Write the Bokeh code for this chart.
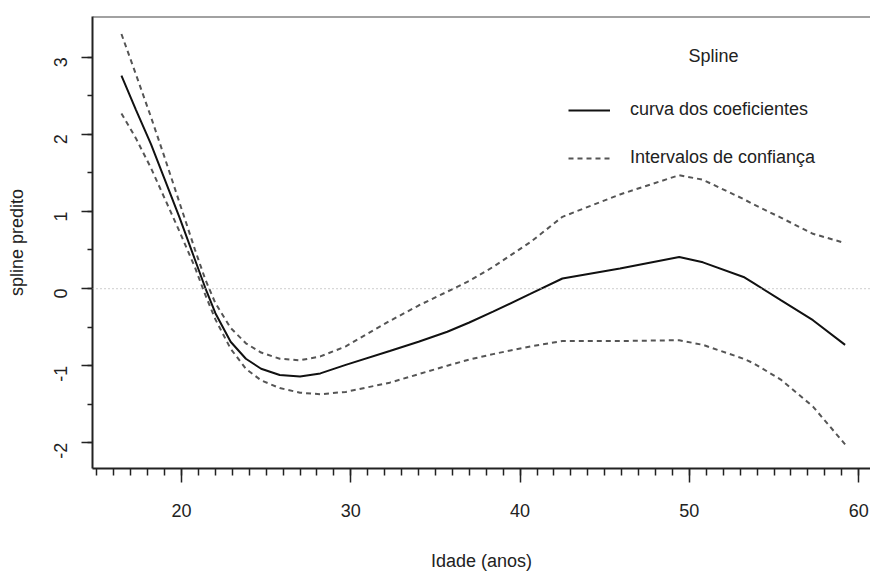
import math

from bokeh.embed import file_html
from bokeh.models import (ColumnDataSource, FixedTicker, Label, Legend,
                          LegendItem, Range1d, Span)
from bokeh.plotting import figure
from bokeh.resources import INLINE

# Age (years) and the fitted spline with its confidence band
idade = [16.45, 17.3, 18.2, 19.0, 19.9, 20.8, 21.4, 22.0, 22.9, 23.8, 24.7,
         25.8, 27.0, 28.2, 29.7, 32.3, 34.0, 35.7, 37.0, 38.4, 40.6, 42.5,
         45.9, 49.4, 50.8, 53.2, 53.8, 55.4, 57.3, 59.2]
spline = [2.76, 2.32, 1.87, 1.42, 0.91, 0.37, 0.01, -0.32, -0.69, -0.91,
          -1.04, -1.12, -1.14, -1.10, -0.99, -0.81, -0.69, -0.56, -0.44, -0.30,
          -0.07, 0.13, 0.26, 0.41, 0.34, 0.15, 0.07, -0.15, -0.41, -0.73]
ic_sup = [3.30, 2.78, 2.22, 1.70, 1.10, 0.50, 0.12, -0.19, -0.51, -0.71,
          -0.83, -0.91, -0.93, -0.88, -0.75, -0.42, -0.22, -0.04, 0.10, 0.28,
          0.60, 0.93, 1.22, 1.47, 1.41, 1.16, 1.09, 0.92, 0.71, 0.59]
ic_inf = [2.27, 1.95, 1.56, 1.17, 0.73, 0.27, -0.08, -0.40, -0.78, -1.04,
          -1.19, -1.29, -1.35, -1.37, -1.34, -1.22, -1.11, -1.00, -0.92, -0.85,
          -0.75, -0.68, -0.68, -0.67, -0.73, -0.91, -0.97, -1.18, -1.53, -2.02]

x_major = [20, 30, 40, 50, 60]
x_minor = list(range(15, 61))
y_major = [-2, -1, 0, 1, 2, 3]
y_minor = [v / 2 for v in range(-4, 7)]
y_labels = {-2: "-2", -1: "-1", 0: "0", 1: "1", 2: "2", 3: "3"}

FONT = "Liberation Sans"
FSIZE = "18px"
INK = "#222222"

src = ColumnDataSource(dict(idade=idade, spline=spline, ic_sup=ic_sup, ic_inf=ic_inf))

p = figure(width=870, height=574, output_backend="svg", toolbar_location=None,
           x_range=Range1d(14.74, 60.70), y_range=Range1d(-2.333, 3.527),
           min_border_left=92, min_border_right=0, min_border_top=16,
           min_border_bottom=106)
p.outline_line_color = None
p.grid.visible = False
p.background_fill_color = "white"
p.border_fill_color = "white"

# reference line at zero
p.add_layout(Span(location=0, dimension="width", line_color="#b0b0b0",
                  line_width=1.2, line_dash="1 3"))
# top edge of the box
p.add_layout(Span(location=3.527, dimension="width", line_color="#444444",
                  line_width=2))

r_fit = p.line("idade", "spline", source=src, line_color="#111111", line_width=2)
r_sup = p.line("idade", "ic_sup", source=src, line_color="#555555", line_width=2,
               line_dash="5 4")
p.line("idade", "ic_inf", source=src, line_color="#555555", line_width=2,
       line_dash="5 4")

# axes
xa = p.xaxis[0]
xa.ticker = FixedTicker(ticks=x_major, minor_ticks=x_minor)
xa.axis_label = "Idade (anos)"
ya = p.yaxis[0]
ya.ticker = FixedTicker(ticks=y_major, minor_ticks=y_minor)
ya.major_label_overrides = y_labels
ya.axis_label = "spline predito"
ya.major_label_orientation = math.pi / 2

for ax in (xa, ya):
    ax.axis_line_color = "#222222"
    ax.axis_line_width = 2
    ax.major_tick_line_color = "#222222"
    ax.minor_tick_line_color = "#222222"
    ax.major_tick_line_width = 1.5
    ax.minor_tick_line_width = 1.5
    ax.major_tick_in = 0
    ax.minor_tick_in = 0
    ax.major_label_text_font = FONT
    ax.major_label_text_font_size = FSIZE
    ax.major_label_text_color = INK
    ax.axis_label_text_font = FONT
    ax.axis_label_text_font_size = FSIZE
    ax.axis_label_text_font_style = "normal"
    ax.axis_label_text_color = INK

xa.major_tick_out = 14
xa.minor_tick_out = 7
xa.major_label_standoff = 21
xa.axis_label_standoff = 31
ya.major_tick_out = 11
ya.minor_tick_out = 5
ya.major_label_standoff = 21
ya.axis_label_standoff = 18

# legend
legend = Legend(items=[LegendItem(label="curva dos coeficientes", renderers=[r_fit]),
                       LegendItem(label="Intervalos de confiança", renderers=[r_sup])],
                location=(476, 300), margin=0, padding=0, spacing=27,
                glyph_width=42, glyph_height=20, label_height=20,
                label_standoff=20, border_line_color=None,
                background_fill_alpha=0, label_text_font=FONT,
                label_text_font_size=FSIZE, label_text_color=INK)
p.add_layout(legend)
p.add_layout(Label(x=51.42, y=3.02, text="Spline", text_align="center",
                   text_baseline="middle", text_font=FONT,
                   text_font_size=FSIZE, text_color=INK))

open("out.html", "w").write(file_html(p, INLINE))
